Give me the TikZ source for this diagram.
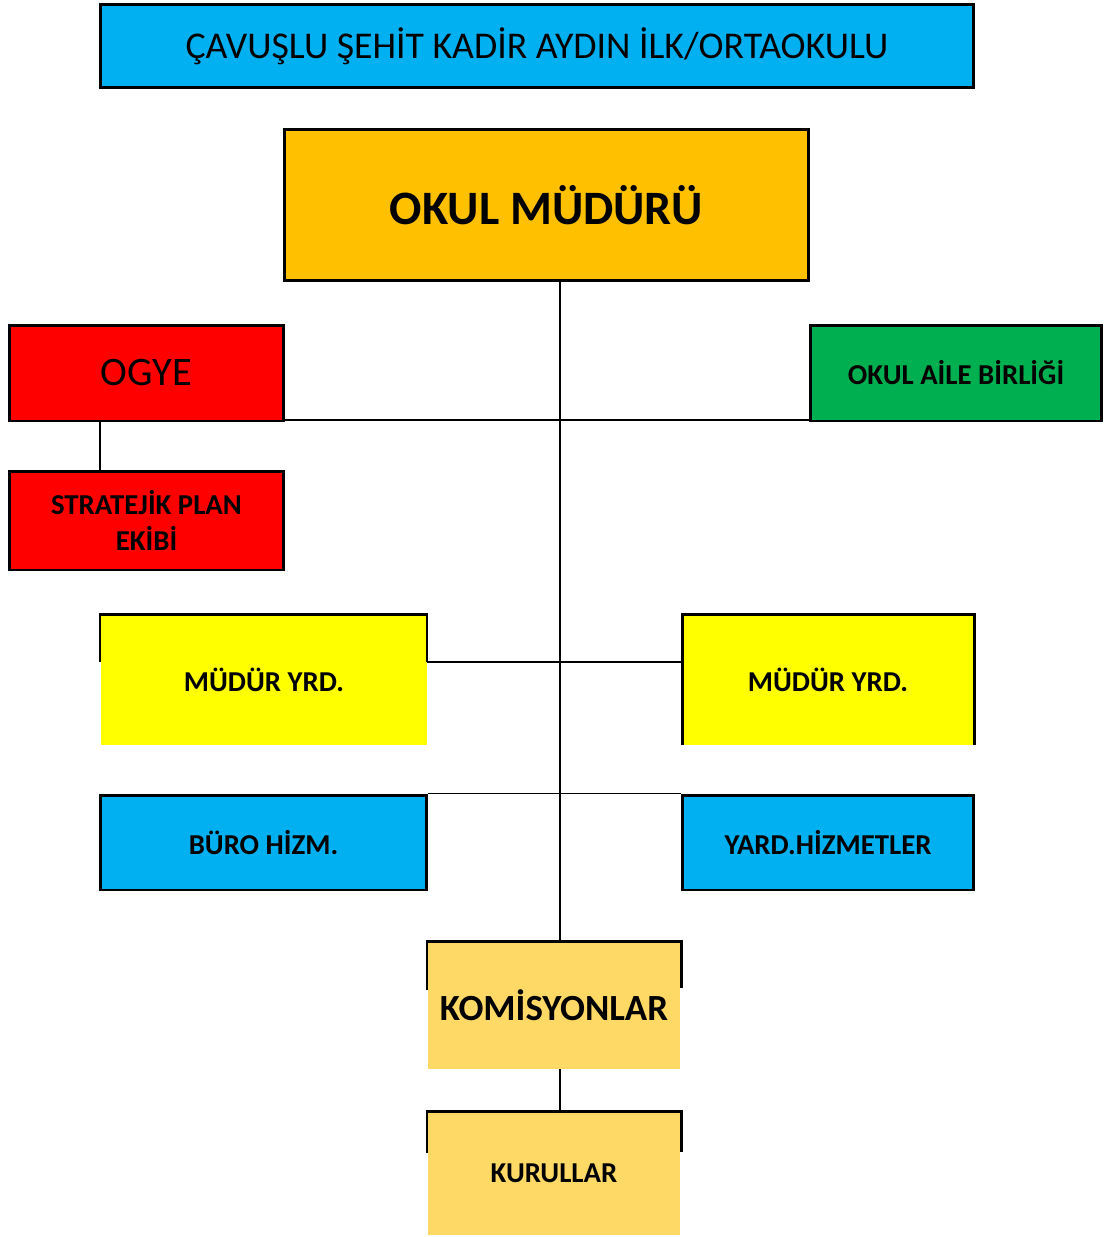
\documentclass[tikz,border=0pt]{standalone}
\usepackage{fontspec}
\setmainfont{Carlito}
\usepackage{tikz}
\definecolor{cam}{HTML}{00B0F0}
\definecolor{turuncu}{HTML}{FFC000}
\definecolor{kirmizi}{HTML}{FF0000}
\definecolor{yesil}{HTML}{00B050}
\definecolor{sari}{HTML}{FFFF00}
\definecolor{acikturuncu}{HTML}{FFD966}
\tikzset{%
  kutu/.style     = {shape=rectangle, draw, line width=1.7pt, align=center,%
                     inner sep=0pt, font=\fontsize{16.4}{20.4}\selectfont\bfseries},%
  baslik/.style   = {kutu, fill=cam, font=\fontsize{21.5}{25}\selectfont},%
  bos/.style      = {shape=rectangle, align=center, inner sep=0pt,%
                     font=\fontsize{16.4}{20.4}\selectfont\bfseries},%
  cizgi/.style    = {line width=1.1pt},%
  kenar/.style    = {line width=1.7pt}%
}

\begin{document}
\begin{tikzpicture}[x=0.02cm, y=-0.02cm]
  \useasboundingbox (0,0) rectangle (1104,1237);
  % -------------- UST KISIM -----------------------------
  \node[baslik, minimum width=17.48cm, minimum height=1.68cm] (okul) at (537,46)
        {ÇAVUŞLU ŞEHİT KADİR AYDIN İLK/ORTAOKULU};
  \node[kutu, fill=turuncu, minimum width=10.5cm, minimum height=3.04cm,
        font=\fontsize{27.3}{30}\selectfont\bfseries] (mudur) at (546.5,205) {OKUL MÜDÜRÜ};
  \node[kutu, fill=kirmizi, minimum width=5.5cm, minimum height=1.92cm,
        font=\fontsize{23}{26}\selectfont] (ogye) at (146.5,373) {OGYE};
  \node[kutu, fill=yesil, minimum width=5.84cm, minimum height=1.92cm] (aile) at (956,373)
        {OKUL AİLE BİRLİĞİ};
  \node[kutu, fill=kirmizi, minimum width=5.5cm, minimum height=1.98cm] (plan) at (146.5,520.5)
        {STRATEJİK PLAN\\EKİBİ};
  % -------------- MUDUR YARDIMCILARI -----------------------------
  \node[bos, fill=sari, minimum width=6.52cm, minimum height=2.62cm] (yrdsol) at (264,679.5) {MÜDÜR YRD.};
  \node[bos, fill=sari, minimum width=5.84cm, minimum height=2.62cm] (yrdsag) at (828,679.5) {MÜDÜR YRD.};
  \draw[kenar] (100,662) -- (100,614) -- (427,614) -- (427,662);
  \draw[kenar] (682,745) -- (682,614) -- (974,614) -- (974,745);
  \node[kutu, fill=cam, minimum width=6.54cm, minimum height=1.9cm] (buro) at (263.5,842.5) {BÜRO HİZM.};
  \node[kutu, fill=cam, minimum width=5.84cm, minimum height=1.9cm] (yard) at (828,842.5) {YARD.HİZMETLER};
  % -------------- ALT KISIM -----------------------------
  \node[bos, fill=acikturuncu, minimum width=5.04cm, minimum height=2.54cm,
        font=\fontsize{21}{24}\selectfont\bfseries] (komisyon) at (554,1005.5) {KOMİSYONLAR};
  \draw[kenar] (427,990) -- (427,941) -- (681,941) -- (681,988);
  \node[bos, fill=acikturuncu, minimum width=5.04cm, minimum height=2.46cm] (kurul) at (554,1173.5) {KURULLAR};
  \draw[kenar] (427,1153) -- (427,1111) -- (681,1111) -- (681,1152);
  % -------------- BAGLANTILAR -----------------------------
  \coordinate (omurga) at (560,0);
  \coordinate (solhat) at (100,0);
  \coordinate (ogyehat) at (0,420);
  \coordinate (yrdhat) at (0,662);
  \draw[cizgi] (mudur.south -| omurga) -- (komisyon.north -| omurga);
  \draw[cizgi] (ogye.east |- ogyehat) -- (aile.west |- ogyehat);
  \draw[cizgi] (ogye.south -| solhat) -- (plan.north -| solhat);
  \draw[cizgi] (yrdsol.east |- yrdhat) -- (yrdsag.west |- yrdhat);
  \draw[cizgi] (buro.north east) -- (yard.north west);
  \draw[cizgi] (komisyon.south -| omurga) -- (kurul.north -| omurga);
\end{tikzpicture}
\end{document}
